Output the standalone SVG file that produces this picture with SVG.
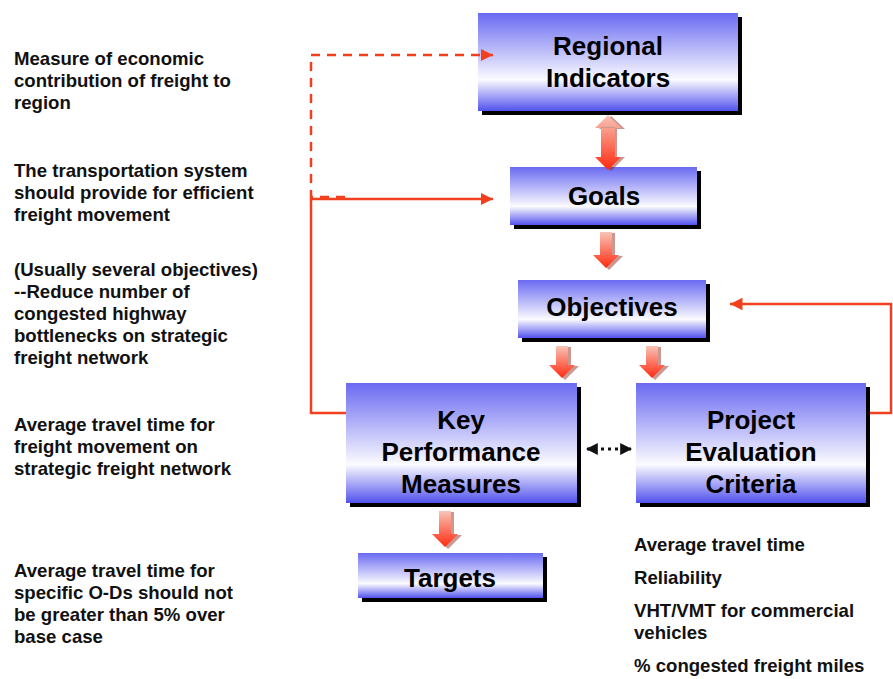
<svg xmlns="http://www.w3.org/2000/svg" width="893" height="679" viewBox="0 0 893 679">
<defs>
<linearGradient id="boxg" x1="0" y1="0" x2="0" y2="1">
<stop offset="0" stop-color="#6a6af2"/>
<stop offset="0.68" stop-color="#fbfbff"/>
<stop offset="1" stop-color="#5252ee"/>
</linearGradient>
<linearGradient id="arrg" x1="0" y1="0" x2="0" y2="1">
<stop offset="0" stop-color="#f8c4b6"/>
<stop offset="1" stop-color="#ff2a10"/>
</linearGradient>
<marker id="ah" viewBox="0 0 10 10" refX="10" refY="5" markerWidth="5" markerHeight="5" orient="auto" markerUnits="strokeWidth">
<path d="M0,0 L10,5 L0,10 Z" fill="#f2401e"/>
</marker>
<marker id="bh" viewBox="0 0 10 10" refX="9" refY="5" markerWidth="4" markerHeight="4" orient="auto-start-reverse" markerUnits="strokeWidth">
<path d="M0,0 L10,5 L0,10 Z" fill="#111"/>
</marker>
</defs>
<style>
.box{fill:url(#boxg)}
.sh{fill:#000}
.bt{font-family:"Liberation Sans",Arial,sans-serif;font-weight:bold;font-size:26px;fill:#000;text-anchor:middle}
.lt{font-family:"Liberation Sans",Arial,sans-serif;font-weight:bold;font-size:18.6px;fill:#111}
.ln{fill:none;stroke:#f2401e;stroke-width:2.5}
.ds{stroke-dasharray:9 7}
.ba{fill:url(#arrg)}
.bs{fill:#8a1a0a;opacity:0.45}
</style>
<rect width="893" height="679" fill="#fff"/>

<g id="notes">
<text class="lt" x="14"><tspan x="14" y="65">Measure of economic</tspan><tspan x="14" y="87">contribution of freight to</tspan><tspan x="14" y="109">region</tspan></text>
<text class="lt" x="14"><tspan x="14" y="177">The transportation system</tspan><tspan x="14" y="199">should provide for efficient</tspan><tspan x="14" y="221">freight movement</tspan></text>
<text class="lt" x="14"><tspan x="14" y="276">(Usually several objectives)</tspan><tspan x="14" y="298">--Reduce number of</tspan><tspan x="14" y="320">congested highway</tspan><tspan x="14" y="342">bottlenecks on strategic</tspan><tspan x="14" y="364">freight network</tspan></text>
<text class="lt" x="14"><tspan x="14" y="431">Average travel time for</tspan><tspan x="14" y="453">freight movement on</tspan><tspan x="14" y="475">strategic freight network</tspan></text>
<text class="lt" x="14"><tspan x="14" y="577">Average travel time for</tspan><tspan x="14" y="599">specific O-Ds should not</tspan><tspan x="14" y="621">be greater than 5% over</tspan><tspan x="14" y="643">base case</tspan></text>
<text class="lt" x="634"><tspan x="634" y="551">Average travel time</tspan><tspan x="634" y="584">Reliability</tspan><tspan x="634" y="617">VHT/VMT for commercial</tspan><tspan x="634" y="639">vehicles</tspan><tspan x="634" y="672">% congested freight miles</tspan></text>
</g>

<g id="regional-indicators">
<rect class="sh" x="482" y="17" width="260" height="98"/>
<rect class="box" x="478" y="13" width="260" height="98"/>
<text class="bt" x="608"><tspan x="608" y="55">Regional</tspan><tspan x="608" y="87">Indicators</tspan></text>
</g>
<g id="goals">
<rect class="sh" x="514" y="171" width="187" height="58"/>
<rect class="box" x="510" y="167" width="187" height="58"/>
<text class="bt" x="604" y="205">Goals</text>
</g>
<g id="objectives">
<rect class="sh" x="522" y="284" width="188" height="58"/>
<rect class="box" x="518" y="280" width="188" height="58"/>
<text class="bt" x="612" y="316">Objectives</text>
</g>
<g id="key-performance-measures">
<rect class="sh" x="350" y="387" width="231" height="120"/>
<rect class="box" x="346" y="383" width="231" height="120"/>
<text class="bt" x="461"><tspan x="461" y="429">Key</tspan><tspan x="461" y="461">Performance</tspan><tspan x="461" y="493">Measures</tspan></text>
</g>
<g id="project-evaluation-criteria">
<rect class="sh" x="640" y="387" width="230" height="120"/>
<rect class="box" x="636" y="383" width="230" height="120"/>
<text class="bt" x="751"><tspan x="751" y="429">Project</tspan><tspan x="751" y="461">Evaluation</tspan><tspan x="751" y="493">Criteria</tspan></text>
</g>
<g id="targets">
<rect class="sh" x="362" y="557" width="185" height="45"/>
<rect class="box" x="358" y="553" width="185" height="45"/>
<text class="bt" x="450" y="587">Targets</text>
</g>

<g id="connectors">
<path class="ln ds" d="M345,197 H311 V55 H493" marker-end="url(#ah)"/>
<path class="ln" d="M346,413 H311 V199 H493" marker-end="url(#ah)"/>
<path class="ln" d="M870,413 H891 V304 H730" marker-end="url(#ah)"/>
<path d="M587,449 H631" fill="none" stroke="#111" stroke-width="3" stroke-dasharray="3 4" marker-start="url(#bh)" marker-end="url(#bh)"/>
<path class="bs" d="M597,128 H623 L609,115 Z M603,128 H615 V156 H623 L609,170 L597,156 H603 Z" transform="translate(2,1)"/>
<path class="ba" d="M595,128 H621 L608,115 Z M601,127 H615 V157 H621 L608,170 L595,157 H601 Z"/>
<path class="bs" d="M601,232 H613 V255 H621 L607,269 L593,255 H601 Z" transform="translate(2,1)"/>
<path class="ba" d="M600,232 H612 V255 H619 L606,268 L593,255 H600 Z"/>
<path class="bs" d="M557,346 H569 V365 H577 L563,379 L549,365 H557 Z" transform="translate(2,1)"/>
<path class="ba" d="M556,346 H568 V365 H575 L562,378 L549,365 H556 Z"/>
<path class="bs" d="M647,346 H659 V365 H667 L653,379 L639,365 H647 Z" transform="translate(2,1)"/>
<path class="ba" d="M646,346 H658 V365 H665 L652,378 L639,365 H646 Z"/>
<path class="bs" d="M440,511 H452 V534 H460 L446,548 L432,534 H440 Z" transform="translate(2,1)"/>
<path class="ba" d="M439,511 H451 V534 H458 L445,547 L432,534 H439 Z"/>
</g>
</svg>
